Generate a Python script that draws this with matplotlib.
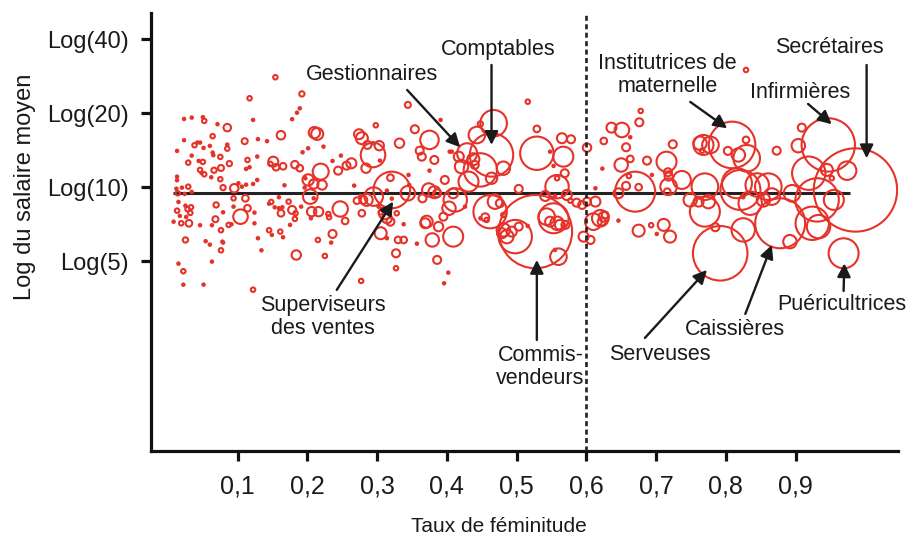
import numpy as np
import matplotlib
matplotlib.use('Agg')
import matplotlib.pyplot as plt

plt.rcParams['font.family'] = ['Liberation Sans', 'DejaVu Sans']

# ---- data : taux de féminitude, log du salaire moyen (ln), effectif ----
taux = [
    0.117, 0.023, 0.034, 0.050, 0.052, 0.071, 0.085, 0.122, 0.064, 0.110,
    0.129, 0.142, 0.162, 0.023, 0.038, 0.042, 0.046, 0.051, 0.060, 0.085,
    0.085, 0.013, 0.034, 0.064, 0.065, 0.075, 0.128, 0.029, 0.044, 0.050,
    0.088, 0.114, 0.112, 0.117, 0.151, 0.147, 0.155, 0.165, 0.182, 0.046,
    0.048, 0.052, 0.062, 0.066, 0.076, 0.075, 0.013, 0.013, 0.029, 0.020,
    0.012, 0.014, 0.024, 0.034, 0.095, 0.101, 0.106, 0.112, 0.079, 0.122,
    0.128, 0.167, 0.111, 0.094, 0.114, 0.104, 0.069, 0.094, 0.015, 0.025,
    0.028, 0.033, 0.013, 0.030, 0.019, 0.008, 0.046, 0.068, 0.063, 0.079,
    0.087, 0.091, 0.076, 0.124, 0.124, 0.145, 0.148, 0.153, 0.159, 0.159,
    0.162, 0.164, 0.173, 0.178, 0.182, 0.183, 0.175, 0.145, 0.149, 0.161,
    0.165, 0.129, 0.025, 0.054, 0.060, 0.078, 0.079, 0.076, 0.134, 0.184,
    0.015, 0.063, 0.022, 0.022, 0.051, 0.122, 0.154, 0.192, 0.032, 0.017,
    0.026,
    # 0.19 - 0.41
    0.189, 0.185, 0.178, 0.344, 0.298, 0.391, 0.354, 0.210, 0.214, 0.274,
    0.278, 0.286, 0.294, 0.303, 0.294, 0.304, 0.332, 0.375, 0.361, 0.364,
    0.382, 0.404, 0.223, 0.201, 0.193, 0.236, 0.248, 0.189, 0.219, 0.244,
    0.256, 0.263, 0.284, 0.375, 0.397, 0.201, 0.197, 0.196, 0.209, 0.221,
    0.204, 0.209, 0.267, 0.319, 0.321, 0.345, 0.346, 0.314, 0.344, 0.374,
    0.382, 0.386, 0.365, 0.295, 0.285, 0.276, 0.271, 0.280, 0.302, 0.307,
    0.305, 0.311, 0.321, 0.314, 0.319, 0.328, 0.191, 0.206, 0.216, 0.205,
    0.247, 0.230, 0.231, 0.254, 0.278, 0.305, 0.314, 0.330, 0.338, 0.338,
    0.236, 0.234, 0.215, 0.371, 0.369, 0.388, 0.395, 0.403, 0.379, 0.357,
    0.327, 0.225, 0.327, 0.386, 0.402, 0.396, 0.277,
    # 0.40 - 0.61
    0.516, 0.467, 0.448, 0.443, 0.529, 0.464, 0.529, 0.565, 0.578, 0.567,
    0.548, 0.553, 0.601, 0.429, 0.407, 0.417, 0.438, 0.440, 0.421, 0.448,
    0.481, 0.464, 0.431, 0.503, 0.558, 0.569, 0.558, 0.541, 0.555, 0.572,
    0.577, 0.586, 0.594, 0.601, 0.613, 0.613, 0.409, 0.412, 0.426, 0.462,
    0.469, 0.476, 0.481, 0.448, 0.455, 0.457, 0.527, 0.498, 0.481, 0.493,
    0.503, 0.486, 0.479, 0.516, 0.543, 0.553, 0.558, 0.562, 0.570, 0.548,
    0.555, 0.560, 0.409, 0.596, 0.606, 0.610,
    # 0.62 - 0.83
    0.678, 0.676, 0.636, 0.651, 0.663, 0.625, 0.724, 0.657, 0.663, 0.687,
    0.715, 0.650, 0.623, 0.717, 0.718, 0.737, 0.661, 0.657, 0.675, 0.670,
    0.694, 0.646, 0.718, 0.716, 0.620, 0.625, 0.622, 0.627, 0.646, 0.675,
    0.693, 0.701, 0.711, 0.720, 0.749, 0.770, 0.761, 0.775, 0.770, 0.785,
    0.768, 0.763, 0.778, 0.766, 0.809, 0.803, 0.818, 0.829, 0.821, 0.816,
    0.825, 0.792, 0.825, 0.829,
    # 0.83 - 1
    0.909, 0.873, 0.904, 0.947, 0.830, 0.919, 0.945, 0.952, 0.974, 0.986,
    0.845, 0.861, 0.854, 0.866, 0.835, 0.895, 0.931, 0.955, 0.924, 0.933,
    0.878, 0.892, 0.969,
]

log_salaire = [
    3.136, 2.942, 2.955, 2.959, 2.924, 2.893, 2.861, 2.933, 2.781, 2.734,
    2.753, 2.734, 2.790, 2.743, 2.696, 2.721, 2.721, 2.671, 2.690, 2.702,
    2.664, 2.643, 2.599, 2.627, 2.603, 2.587, 2.590, 2.533, 2.549, 2.540,
    2.524, 2.558, 2.474, 2.490, 2.542, 2.521, 2.490, 2.499, 2.514, 2.465,
    2.437, 2.424, 2.396, 2.462, 2.483, 2.378, 2.402, 2.368, 2.308, 2.299,
    2.289, 2.246, 2.240, 2.259, 2.293, 2.340, 2.308, 2.327, 2.299, 2.333,
    2.371, 2.321, 2.199, 2.199, 2.106, 2.027, 2.137, 2.121, 2.165, 2.130,
    2.097, 2.115, 2.083, 1.965, 1.965, 1.980, 1.947, 2.003, 1.947, 2.068,
    1.950, 1.956, 1.900, 2.065, 1.965, 2.149, 2.165, 2.115, 2.209, 2.106,
    2.059, 2.115, 2.168, 2.090, 2.006, 2.059, 1.950, 1.900, 1.856, 1.887,
    1.834, 1.825, 1.809, 1.797, 1.765, 1.793, 1.784, 1.712, 1.712, 1.668,
    1.587, 1.606, 1.516, 1.390, 1.390, 1.343, 3.333, 3.177, 2.062, 2.034,
    2.024,
    3.042, 3.001, 2.940, 3.074, 2.883, 2.933, 2.846, 2.814, 2.802, 2.799,
    2.762, 2.699, 2.715, 2.692, 2.605, 2.552, 2.715, 2.746, 2.645, 2.589,
    2.558, 2.636, 2.683, 2.668, 2.630, 2.549, 2.599, 2.481, 2.449, 2.458,
    2.505, 2.527, 2.481, 2.458, 2.371, 2.371, 2.387, 2.299, 2.333, 2.324,
    2.215, 2.199, 2.318, 2.392, 2.277, 2.418, 2.324, 2.271, 2.246, 2.277,
    2.256, 2.246, 2.199, 2.215, 2.184, 2.221, 2.177, 2.184, 2.121, 2.099,
    2.068, 2.059, 2.196, 2.012, 1.980, 2.059, 2.121, 2.074, 2.074, 2.012,
    2.099, 2.052, 2.021, 1.987, 2.059, 1.872, 1.825, 1.809, 1.809, 1.956,
    1.865, 1.784, 1.809, 1.980, 1.965, 1.934, 2.027, 2.106, 1.809, 1.774,
    1.684, 1.659, 1.544, 1.622, 1.503, 1.403, 1.425,
    3.104, 2.902, 2.896, 2.792, 2.849, 2.605, 2.621, 2.762, 2.752, 2.589,
    2.636, 2.502, 2.674, 2.621, 2.636, 2.589, 2.565, 2.512, 2.496, 2.465,
    2.481, 2.387, 2.355, 2.287, 2.308, 2.434, 2.387, 2.221, 2.221, 2.230,
    2.177, 2.158, 2.137, 2.168, 2.293, 2.168, 2.246, 2.184, 2.121, 2.074,
    2.168, 2.153, 2.043, 2.012, 2.021, 1.996, 1.887, 1.840, 1.903, 1.887,
    1.934, 1.840, 1.872, 1.940, 2.027, 2.012, 1.965, 1.950, 1.950, 1.980,
    1.715, 1.652, 1.840, 1.840, 1.809, 1.980,
    3.017, 2.911, 2.861, 2.839, 2.771, 2.736, 2.705, 2.677, 2.568, 2.552,
    2.542, 2.511, 2.477, 2.443, 2.402, 2.371, 2.408, 2.315, 2.303, 2.261,
    2.418, 2.246, 2.308, 2.261, 2.012, 2.027, 1.980, 2.043, 1.990, 1.896,
    1.947, 1.865, 1.950, 1.840, 2.184, 2.308, 2.168, 2.168, 2.074, 1.928,
    2.699, 2.715, 2.699, 2.645, 2.699, 2.643, 2.605, 2.746, 2.277, 2.340,
    2.209, 1.684, 1.903, 3.401,
    2.861, 2.645, 2.692, 2.699, 2.574, 2.434, 2.465, 2.387, 2.458, 2.277,
    2.324, 2.308, 2.184, 2.215, 2.153, 2.246, 2.184, 2.184, 1.965, 1.934,
    1.965, 1.793, 1.684,
]

effectif = [
    5, 1.5, 1.5, 1.5, 5, 1.5, 14, 1.5, 5, 9,
    1.5, 1.5, 18, 1.5, 5, 1.5, 1.5, 1.5, 1.5, 1.5,
    5, 1.5, 1.5, 1.5, 1.5, 5, 1.5, 5, 1.5, 5,
    7, 5, 1.5, 1.5, 25, 5, 11, 11, 14, 5,
    1.5, 5, 1.5, 7, 9, 5, 1.5, 1.5, 5, 1.5,
    1.5, 5, 1.5, 1.5, 18, 1.5, 1.5, 1.5, 7, 1.5,
    1.5, 1.5, 11, 5, 11, 53, 7, 1.5, 1.5, 1.5,
    5, 5, 5, 11, 5, 1.5, 1.5, 9, 1.5, 1.5,
    5, 1.5, 5, 1.5, 1.5, 1.5, 5, 1.5, 1.5, 1.5,
    11, 1.5, 5, 16, 5, 5, 1.5, 5, 1.5, 5,
    1.5, 1.5, 7, 1.5, 1.5, 1.5, 1.5, 5, 1.5, 22,
    1.5, 1.5, 5, 1.5, 1.5, 5, 5, 7, 5, 1.5,
    1.5,
    1.5, 1.5, 1.5, 9, 5, 1.5, 16, 32, 36, 25,
    36, 16, 1.5, 22, 151, 1.5, 22, 86, 16, 16,
    16, 1.5, 1.5, 1.5, 1.5, 1.5, 1.5, 11, 64, 16,
    16, 25, 22, 1.5, 16, 32, 1.5, 1.5, 22, 22,
    53, 1.5, 1.5, 11, 335, 1.5, 1.5, 1.5, 53, 45,
    36, 16, 16, 86, 36, 1.5, 11, 16, 1.5, 1.5,
    5, 36, 1.5, 25, 16, 5, 1.5, 22, 22, 1.5,
    59, 5, 5, 11, 11, 36, 1.5, 11, 11, 1.5,
    16, 1.5, 5, 36, 25, 22, 16, 45, 45, 1.5,
    16, 5, 5, 16, 1.5, 1.5, 5,
    5, 177, 7, 69, 11, 471, 279, 25, 16, 100,
    1.5, 1.5, 18, 100, 1.5, 25, 36, 16, 45, 279,
    45, 32, 100, 16, 137, 16, 5, 25, 1.5, 25,
    5, 16, 16, 16, 1.5, 25, 25, 137, 1.5, 279,
    53, 16, 5, 1.5, 16, 5, 1347, 279, 45, 25,
    16, 45, 25, 1.5, 69, 225, 45, 25, 16, 25,
    1.5, 69, 100, 25, 16, 69,
    5, 16, 25, 53, 1.5, 11, 16, 16, 11, 16,
    100, 45, 1.5, 16, 16, 81, 5, 16, 11, 400,
    1.5, 25, 69, 11, 69, 25, 16, 11, 1.5, 36,
    5, 1.5, 36, 36, 45, 177, 25, 45, 225, 16,
    100, 45, 69, 5, 543, 16, 45, 11, 400, 225,
    1.5, 745, 137, 5,
    16, 16, 45, 713, 177, 279, 36, 5, 86, 1739,
    137, 177, 45, 69, 137, 69, 471, 100, 279, 137,
    625, 45, 225,
]

moyenne_log = 2.252          # ligne horizontale (log du salaire moyen global)
ligne_debut, ligne_fin = 0.007, 0.978
seuil_feminitude = 0.6

salaire_ticks = [5, 10, 20, 40]
salaire_labels = ['Log(5)', 'Log(10)', 'Log(20)', 'Log(40)']
taux_ticks = [0.1, 0.2, 0.3, 0.4, 0.5, 0.6, 0.7, 0.8, 0.9]
taux_labels = ['0,1', '0,2', '0,3', '0,4', '0,5', '0,6', '0,7', '0,8', '0,9']

# (texte, position du texte, début de flèche, pointe de flèche)
annotations = [
    ('Gestionnaires', (0.292, 3.354), (0.343, 3.214), (0.419, 2.677)),
    ('Comptables', (0.4735, 3.589), (0.464, 3.448), (0.464, 2.699)),
    ('Institutrices de\nmaternelle', (0.716, 3.354), (0.749, 3.102), (0.802, 2.855)),
    ('Secrétaires', (0.948, 3.607), (1.002, 3.448), (1.002, 2.574)),
    ('Infirmières', (0.907, 3.186), (0.918, 3.083), (0.952, 2.893)),
    ('Superviseurs\ndes ventes', (0.222, 1.088), (0.242, 1.341), (0.323, 2.168)),
    ('Commis-\nvendeurs', (0.534, 0.620), (0.529, 0.872), (0.529, 1.622)),
    ('Serveuses', (0.706, 0.732), (0.684, 0.891), (0.773, 1.528)),
    ('Caissières', (0.8135, 0.966), (0.828, 1.116), (0.866, 1.762)),
    ('Puéricultrices', (0.967, 1.200), (0.969, 1.331), (0.970, 1.590)),
]

RED = '#e5332a'
INK = '#1a1a1a'

fig = plt.figure(figsize=(9.09, 5.38), dpi=100)
ax = fig.add_axes([0.1658, 0.1623, 0.8221, 0.8130])

ax.scatter(taux, log_salaire, s=np.array(effectif) * 2.07,
           facecolors='none', edgecolors=RED, linewidths=1.5, zorder=3)

ax.plot([ligne_debut, ligne_fin], [moyenne_log, moyenne_log],
        color='#222222', lw=2.2, zorder=2, solid_capstyle='butt')
ax.axvline(seuil_feminitude, color='#222222', lw=1.9,
           ls=(0, (1.9, 1.3)), zorder=4)

ax.set_xlim(-0.0248, 1.047)
ax.set_ylim(-0.165, 3.932)

ax.set_xticks(taux_ticks)
ax.set_xticklabels(taux_labels)
ax.set_yticks(np.log(salaire_ticks))
ax.set_yticklabels(salaire_labels)

for side in ['top', 'right']:
    ax.spines[side].set_visible(False)
for side in ['left', 'bottom']:
    ax.spines[side].set_linewidth(2.3)
    ax.spines[side].set_color('#111111')

ax.tick_params(axis='both', direction='out', length=7.5, width=2.3,
               color='#111111', labelcolor=INK)
ax.tick_params(axis='x', pad=10, labelsize=18)
ax.tick_params(axis='y', pad=8, labelsize=17)

fig.text(499 / 909, 1 - 527 / 538, 'Taux de féminitude', ha='center',
         va='center', fontsize=15, color=INK)
fig.text(25 / 909, 1 - 187 / 538, 'Log du salaire moyen', ha='center',
         va='center', rotation=90, fontsize=17, color=INK)

for label, txy, start, tip in annotations:
    ax.text(txy[0], txy[1], label, ha='center', va='center', fontsize=15.5,
            color=INK, zorder=6, linespacing=1.15)
    ax.annotate('', xy=tip, xytext=start,
                arrowprops=dict(arrowstyle='-|>', color=INK, lw=1.7,
                                mutation_scale=20, shrinkA=0, shrinkB=0),
                zorder=6)

fig.savefig('out.png', dpi=100)
